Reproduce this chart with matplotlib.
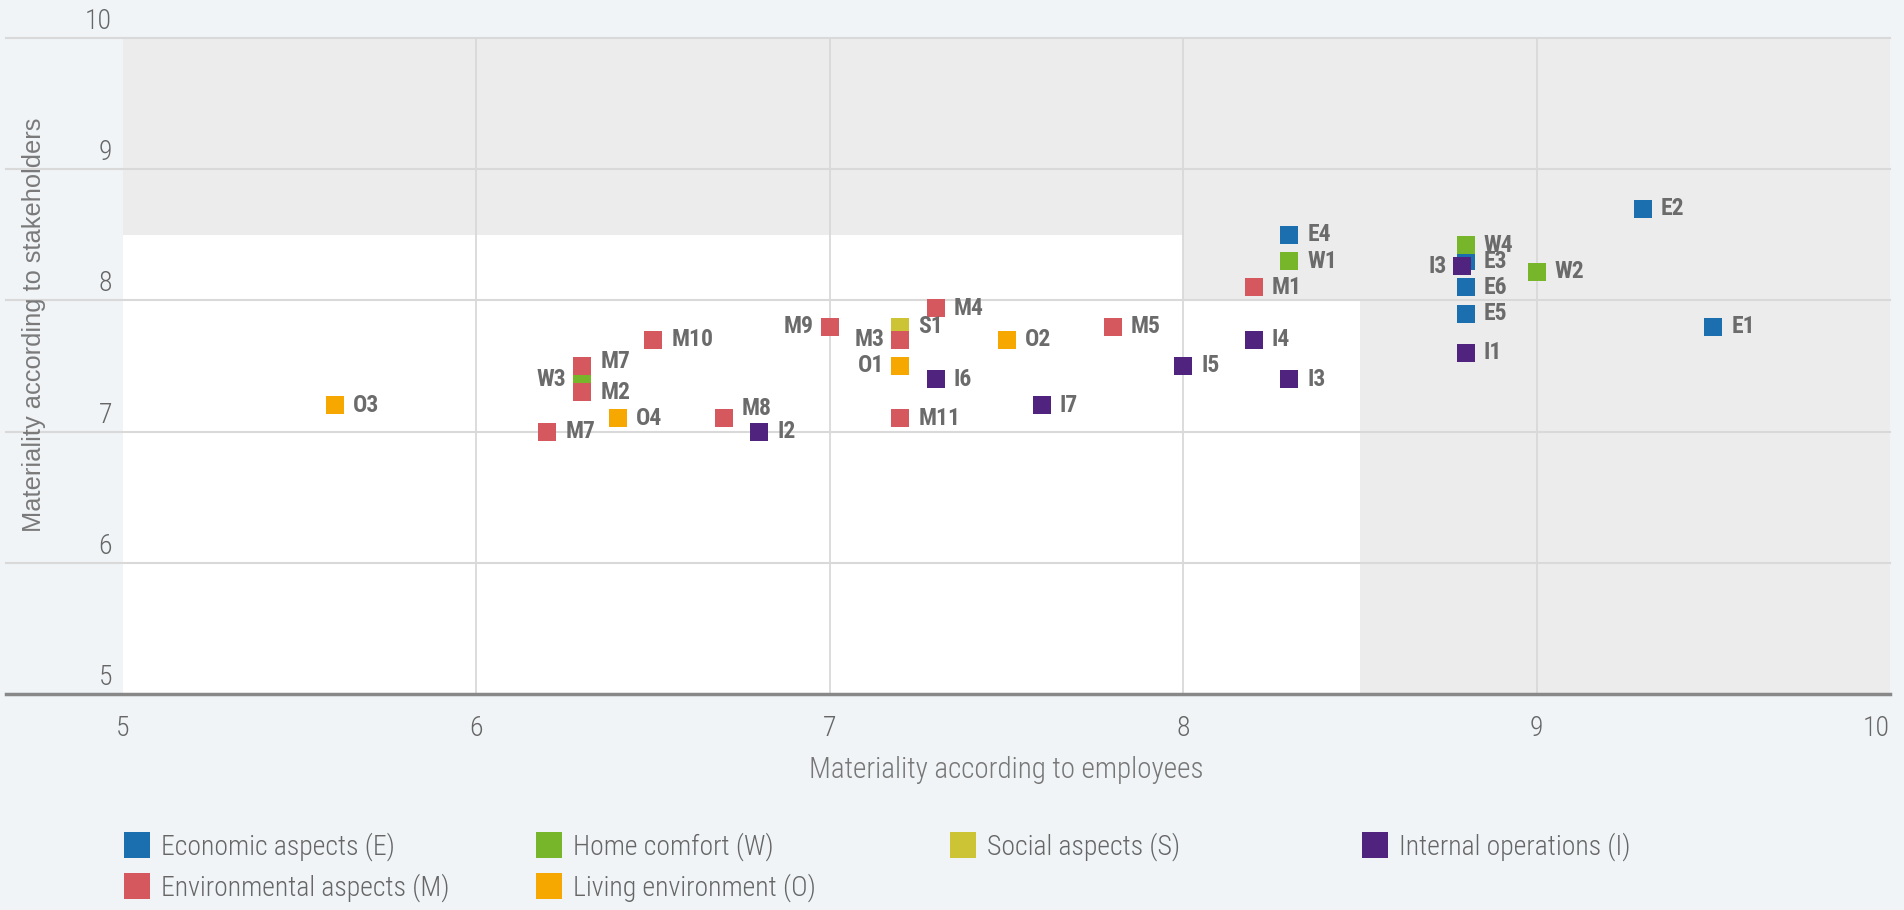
import matplotlib.pyplot as plt
import matplotlib.transforms as mtransforms
from matplotlib.lines import Line2D

plt.rcParams['font.family'] = ['Roboto Condensed', 'DejaVu Sans']

# Economic aspects (E)
e_labels = ['E1', 'E2', 'E3', 'E4', 'E5', 'E6']
e_x = [9.5, 9.3, 8.8, 8.3, 8.8, 8.8]
e_y = [7.8, 8.7, 8.3, 8.5, 7.9, 8.1]

# Home comfort (W)
w_labels = ['W1', 'W2', 'W3', 'W4']
w_x = [8.3, 9.0, 6.3, 8.8]
w_y = [8.3, 8.22, 7.4, 8.42]

# Social aspects (S)
s_labels = ['S1']
s_x = [7.2]
s_y = [7.8]

# Living environment (O)
o_labels = ['O1', 'O2', 'O3', 'O4']
o_x = [7.2, 7.5, 5.6, 6.4]
o_y = [7.5, 7.7, 7.2, 7.1]

# Environmental aspects (M)
m_labels = ['M1', 'M2', 'M3', 'M4', 'M5', 'M7', 'M7', 'M8', 'M9', 'M10', 'M11']
m_x = [8.2, 6.3, 7.2, 7.3, 7.8, 6.3, 6.2, 6.7, 7.0, 6.5, 7.2]
m_y = [8.1, 7.3, 7.7, 7.94, 7.8, 7.5, 7.0, 7.1, 7.8, 7.7, 7.1]

# Internal operations (I)
i_labels = ['I1', 'I2', 'I3', 'I3', 'I4', 'I5', 'I6', 'I7']
i_x = [8.8, 6.8, 8.3, 8.79, 8.2, 8.0, 7.3, 7.6]
i_y = [7.6, 7.0, 7.4, 8.26, 7.7, 7.5, 7.4, 7.2]

ticks = [5, 6, 7, 8, 9, 10]

series = [
    ('Economic aspects (E)', '#1b6fae', e_labels, e_x, e_y),
    ('Home comfort (W)', '#77b52a', w_labels, w_x, w_y),
    ('Social aspects (S)', '#ccc434', s_labels, s_x, s_y),
    ('Living environment (O)', '#f6a800', o_labels, o_x, o_y),
    ('Environmental aspects (M)', '#d5585f', m_labels, m_x, m_y),
    ('Internal operations (I)', '#50237f', i_labels, i_x, i_y),
]

# labels that sit left of their marker / get nudged, keyed by (label, x)
left_side = {('M9', 7.0), ('M3', 7.2), ('O1', 7.2), ('W3', 6.3), ('I3', 8.79)}
nudge = {('M8', 6.7): 7, ('M7', 6.3): 3}

bg = '#f0f4f7'
band = '#ececec'
grid_c = '#d9d9d9'
txt = '#6b6b6b'

fig = plt.figure(figsize=(19.04, 9.10), dpi=100, facecolor=bg)
ax = fig.add_axes([123/1904, 1-694/910, (1890-123)/1904, (694-38)/910])
ax.set_facecolor('white')
ax.set_xlim(5, 10)
ax.set_ylim(5, 10)

# shaded zones
ax.axhspan(8.5, 10, color=band, lw=0, zorder=0)
ax.axvspan(8.5, 10, ymax=0.7, color=band, lw=0, zorder=0)
ax.axvspan(8, 8.5, ymin=0.6, ymax=0.7, color=band, lw=0, zorder=0)

# grid
for xv in ticks[1:-1]:
    ax.axvline(xv, color=grid_c, lw=1.3, zorder=1)
ytr = ax.get_yaxis_transform()
for yv in ticks[1:]:
    ax.plot([-0.066, 1], [yv, yv], color=grid_c, lw=1.5, transform=ytr,
            clip_on=False, zorder=1)
ax.plot([-0.066, 1], [5, 5], color='#888888', lw=2.5, transform=ytr,
        clip_on=False, zorder=3)

for s in ax.spines.values():
    s.set_visible(False)

ax.set_xticks(ticks)
ax.set_xticklabels([str(t) for t in ticks], fontweight='light')
ax.tick_params(axis='x', length=0, pad=15, labelsize=20, labelcolor='#666666')
xlabs = ax.get_xticklabels()
xlabs[-1].set_horizontalalignment('right')
ax.set_yticks(ticks)
ax.set_yticklabels([str(t) for t in ticks], fontweight='light')
ax.tick_params(axis='y', length=0, pad=8, labelsize=20, labelcolor='#666666')
shift = mtransforms.ScaledTranslation(0, 3/100, fig.dpi_scale_trans)
for lab in ax.get_yticklabels():
    lab.set_verticalalignment('bottom')
    lab.set_transform(lab.get_transform() + shift)

ax.set_xlabel('Materiality according to employees', fontsize=21,
              fontweight='light', color='#777777', labelpad=10)
fig.text(34/1904, 1-325/910, 'Materiality according to stakeholders',
         rotation=90, ha='center', va='center', fontsize=18.3,
         color='#7a7a7a', family=['Liberation Sans', 'DejaVu Sans'])

# points + labels
for name, col, labels, xs, ys in series:
    ax.scatter(xs, ys, marker='s', s=13**2, color=col, linewidths=0,
               zorder=4)
for name, col, labels, xs, ys in series:
    for lb, xv, yv in zip(labels, xs, ys):
        if (lb, xv) in left_side:
            dx, ha = -11.5, 'right'
        else:
            dx, ha = 13, 'left'
        dy = nudge.get((lb, xv), 0)
        ax.annotate(lb, (xv, yv), xytext=(dx, dy), textcoords='offset points',
                    ha=ha, va='center', fontsize=17, fontweight='bold',
                    color=txt, zorder=6)

# legend, 4 columns placed like the original
handles = {}
for name, col, labels, xs, ys in series:
    handles[name] = Line2D([], [], marker='s', ls='none', markersize=18.7,
                           color=col, markeredgewidth=0)
cols = [
    (123, ['Economic aspects (E)', 'Environmental aspects (M)']),
    (535, ['Home comfort (W)', 'Living environment (O)']),
    (949, ['Social aspects (S)']),
    (1361, ['Internal operations (I)']),
]
for xpx, names in cols:
    leg = fig.legend([handles[n] for n in names], names, loc='upper left',
                     bbox_to_anchor=(xpx/1904, 1-832/910), frameon=False,
                     borderpad=0, borderaxespad=0, handlelength=1,
                     handletextpad=0.36, labelspacing=0.45,
                     prop={'size': 20, 'weight': 'light'},
                     labelcolor='#666666')

plt.savefig('out.png', dpi=100, facecolor=bg)
